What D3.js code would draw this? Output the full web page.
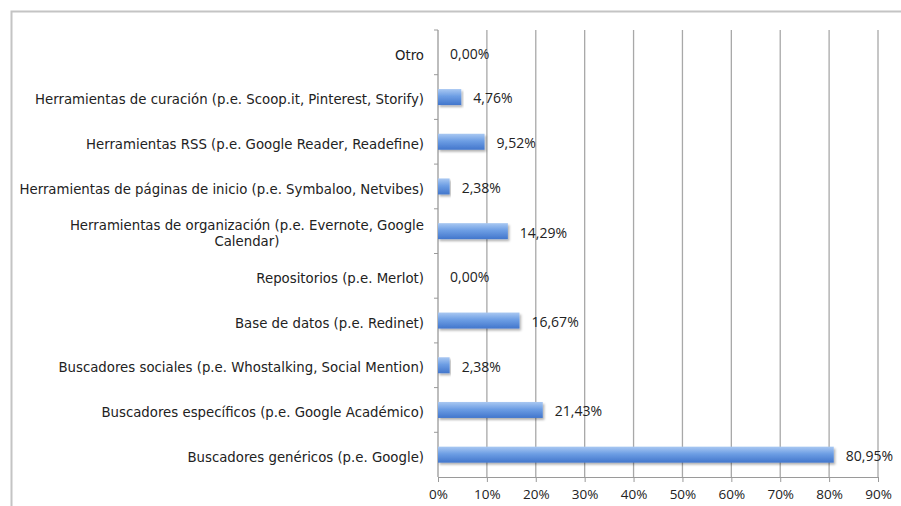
<!DOCTYPE html>
<html>
<head>
<meta charset="utf-8">
<script src="https://cdn.jsdelivr.net/npm/d3@7"></script>
<style>
  body { margin: 0; background: #fff; }
  text { fill: #222; }
  .cat { font-family: "DejaVu Sans", sans-serif; }
  .num { font-family: "Open Sans", sans-serif; }
</style>
</head>
<body>
<div id="chart"></div>
<script>
// categories from top to bottom, as in the picture
var categories = [
  ["Otro"],
  ["Herramientas de curación (p.e. Scoop.it, Pinterest, Storify)"],
  ["Herramientas RSS (p.e. Google Reader, Readefine)"],
  ["Herramientas de páginas de inicio (p.e. Symbaloo, Netvibes)"],
  ["Herramientas de organización (p.e. Evernote, Google", "Calendar)"],
  ["Repositorios (p.e. Merlot)"],
  ["Base de datos (p.e. Redinet)"],
  ["Buscadores sociales (p.e. Whostalking, Social Mention)"],
  ["Buscadores específicos (p.e. Google Académico)"],
  ["Buscadores genéricos (p.e. Google)"]
];
var values = [0.00, 4.76, 9.52, 2.38, 14.29, 0.00, 16.67, 2.38, 21.43, 80.95];
var valueLabels = ["0,00%", "4,76%", "9,52%", "2,38%", "14,29%", "0,00%", "16,67%", "2,38%", "21,43%", "80,95%"];
var xTicks = [0, 10, 20, 30, 40, 50, 60, 70, 80, 90];

var width = 901, height = 506;
var margin = {top: 30, left: 438, right: 23, bottom: 29};

var svg = d3.select("#chart").append("svg")
  .attr("width", width)
  .attr("height", height);

// frame around the chart
svg.append("path")
  .attr("d", "M11.5," + height + "V11.5H" + width)
  .attr("fill", "none")
  .attr("stroke", "#c4c4c4")
  .attr("stroke-width", 2);

var defs = svg.append("defs");
var grad = defs.append("linearGradient")
  .attr("id", "barGrad")
  .attr("x1", 0).attr("y1", 0).attr("x2", 0).attr("y2", 1);
grad.append("stop").attr("offset", "0%").attr("stop-color", "#a9c8f2");
grad.append("stop").attr("offset", "45%").attr("stop-color", "#6d9ee4");
grad.append("stop").attr("offset", "100%").attr("stop-color", "#4276cc");

var shadow = defs.append("filter").attr("id", "shadow")
  .attr("x", "-5%").attr("y", "-30%").attr("width", "115%").attr("height", "180%");
shadow.append("feDropShadow")
  .attr("dx", 1.5).attr("dy", 2).attr("stdDeviation", 1.2)
  .attr("flood-color", "#000").attr("flood-opacity", 0.3);

var x = d3.scaleLinear()
  .domain([0, 90])
  .range([margin.left, width - margin.right]);

var y = d3.scaleBand()
  .domain(d3.range(categories.length))
  .range([margin.top, height - margin.bottom]);

// gridlines
svg.selectAll(".grid")
  .data(xTicks.slice(1))
  .enter()
    .append("line")
    .attr("x1", function (d) { return x(d); })
    .attr("x2", function (d) { return x(d); })
    .attr("y1", margin.top)
    .attr("y2", height - margin.bottom)
    .attr("stroke", "#a8a8a8")
    .attr("stroke-width", 1.3);

// x axis
var xAxis = svg.append("g")
  .attr("transform", "translate(0," + (height - margin.bottom) + ")")
  .call(d3.axisBottom(x).tickValues(xTicks).tickSize(5).tickSizeOuter(0)
    .tickFormat(function (d) { return d + "%"; }));
xAxis.select(".domain").attr("stroke", "#9a9a9a");
xAxis.selectAll(".tick line").attr("stroke", "#9a9a9a");
xAxis.selectAll(".tick text")
  .attr("class", "num")
  .attr("font-size", 13.5)
  .attr("fill", "#222")
  .attr("dy", "1.0em");

// y axis line and ticks at the band edges
svg.append("line")
  .attr("x1", x(0)).attr("x2", x(0))
  .attr("y1", margin.top).attr("y2", height - margin.bottom)
  .attr("stroke", "#9a9a9a").attr("stroke-width", 1.3);

svg.selectAll(".ytick")
  .data(d3.range(categories.length))
  .enter()
    .append("line")
    .attr("x1", x(0) - 4).attr("x2", x(0))
    .attr("y1", function (d) { return y(d); })
    .attr("y2", function (d) { return y(d); })
    .attr("stroke", "#9a9a9a");

// category labels, wrapped lines centred under the first one
var labels = svg.selectAll(".cat")
  .data(categories)
  .enter()
    .append("text")
    .attr("class", "cat")
    .attr("font-size", 13.3)
    .attr("y", function (d, i) { return y(i) + y.bandwidth() / 2 + 2.5 - (d.length - 1) * 8; });

labels.each(function (d) {
  var t = d3.select(this);
  var first = t.append("tspan")
    .attr("x", 424)
    .attr("text-anchor", "end")
    .attr("dy", "0.35em")
    .text(d[0]);
  var w = first.node().getComputedTextLength();
  d.slice(1).forEach(function (line) {
    t.append("tspan")
      .attr("x", 424 - w / 2)
      .attr("text-anchor", "middle")
      .attr("dy", 16)
      .text(line);
  });
});

// bars
svg.selectAll(".bar")
  .data(values)
  .enter()
    .append("rect")
    .attr("x", x(0))
    .attr("y", function (d, i) { return y(i) + y.bandwidth() / 2 - 8; })
    .attr("width", function (d) { return x(d) - x(0); })
    .attr("height", 16)
    .attr("fill", "url(#barGrad)")
    .attr("filter", "url(#shadow)");

// value labels
svg.selectAll(".val")
  .data(values)
  .enter()
    .append("text")
    .attr("class", "num")
    .attr("x", function (d) { return x(d) + 12; })
    .attr("y", function (d, i) { return y(i) + y.bandwidth() / 2 + 1.5; })
    .attr("dy", "0.35em")
    .attr("font-size", 14)
    .text(function (d, i) { return valueLabels[i]; });
</script>
</body>
</html>
